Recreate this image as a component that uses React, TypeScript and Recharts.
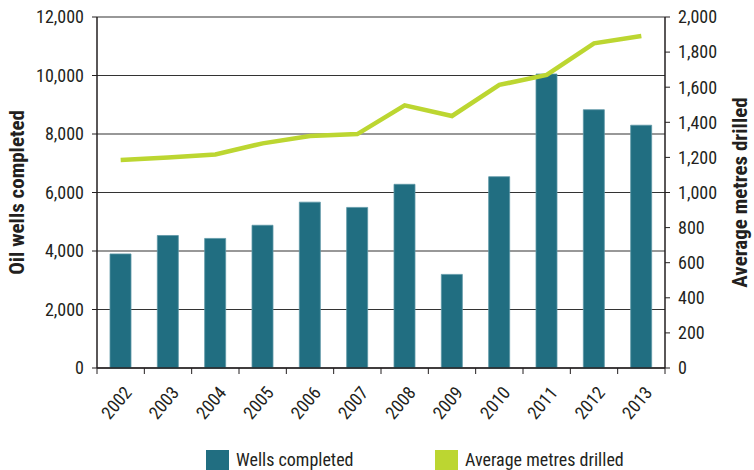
import React from "react";
import {
  Bar,
  CartesianGrid,
  ComposedChart,
  Legend,
  Line,
  XAxis,
  YAxis,
} from "recharts";

// oil wells completed vs average metres drilled, 2002-2013
const years = ["2002", "2003", "2004", "2005", "2006", "2007", "2008", "2009", "2010", "2011", "2012", "2013"];
const wellsCompleted = [3900, 4530, 4430, 4880, 5670, 5490, 6280, 3200, 6540, 10050, 8830, 8300];
const avgMetresDrilled = [1185, 1200, 1217, 1280, 1322, 1333, 1497, 1436, 1613, 1670, 1850, 1892];
const leftTicks = [0, 2000, 4000, 6000, 8000, 10000, 12000];
const rightTicks = [0, 200, 400, 600, 800, 1000, 1200, 1400, 1600, 1800, 2000];

const data = years.map((y, i) => ({
  year: y,
  wells: wellsCompleted[i],
  metres: avgMetresDrilled[i],
}));

const FONT = "'Liberation Sans Narrow', 'Roboto Condensed', 'Liberation Sans', Arial, sans-serif";
const TEAL = "#216e81";
const LIME = "#bcd631";
const INK = "#231f20";
const W = 754;
const H = 470;
const PLOT_L = 97;
const PLOT_R = 665;
const BAND = (PLOT_R - PLOT_L) / years.length;

const fmt = (v: number) => v.toLocaleString("en-US");

function YearTick(props: any) {
  const { x, y, payload, index } = props;
  const tx = x + 7;
  const ty = y + 13;
  return (
    <g>
      <line x1={x - BAND / 2} x2={x - BAND / 2} y1={y - 8} y2={y - 2} stroke={INK} strokeWidth={1} />
      {index === years.length - 1 && (
        <line x1={x + BAND / 2} x2={x + BAND / 2} y1={y - 8} y2={y - 2} stroke={INK} strokeWidth={1} />
      )}
      <text
        x={tx}
        y={ty}
        transform={`rotate(-50 ${tx} ${ty})`}
        textAnchor="end"
        dominantBaseline="central"
        fontFamily={FONT}
        fontSize={18}
        fill={INK}
      >
        {payload.value}
      </text>
    </g>
  );
}

function LegendBox() {
  const items = [
    { label: "Wells completed", color: TEAL, left: 206 },
    { label: "Average metres drilled", color: LIME, left: 435 },
  ];
  return (
    <div style={{ position: "relative", width: W, height: 22 }}>
      {items.map((it) => (
        <div
          key={it.label}
          style={{ position: "absolute", left: it.left, top: 0, display: "flex", alignItems: "center" }}
        >
          <span style={{ width: 23, height: 20, background: it.color, display: "inline-block" }} />
          <span
            style={{ marginLeft: 7, fontFamily: FONT, fontSize: 18, color: INK, lineHeight: "20px" }}
          >
            {it.label}
          </span>
        </div>
      ))}
    </div>
  );
}

export default function App() {
  return (
    <div style={{ position: "absolute", left: 0, top: 0, width: W, height: H, background: "#fff" }}>
      <ComposedChart
        width={W}
        height={H}
        data={data}
        margin={{ top: 17, right: 0, bottom: 20, left: 0 }}
        barCategoryGap={0}
      >
        <CartesianGrid vertical={false} stroke="#333" strokeWidth={1.2} yAxisId="left" />
        <XAxis
          dataKey="year"
          height={60}
          axisLine={{ stroke: INK, strokeWidth: 1.5 }}
          tickLine={false}
          tick={<YearTick />}
          interval={0}
        />
        <YAxis
          yAxisId="left"
          width={PLOT_L}
          domain={[0, 12000]}
          ticks={leftTicks}
          tickFormatter={fmt}
          axisLine={{ stroke: INK, strokeWidth: 1.5 }}
          tickLine={{ stroke: INK }}
          tickSize={5}
          tickMargin={8}
          tick={{ fontFamily: FONT, fontSize: 18, fill: INK }}
          label={({ viewBox }: any) => (
            <text
              x={viewBox.x + 17}
              y={viewBox.y + viewBox.height / 2}
              transform={`rotate(-90 ${viewBox.x + 17} ${viewBox.y + viewBox.height / 2})`}
              textAnchor="middle"
              dominantBaseline="central"
              fontFamily={FONT}
              fontWeight="bold"
              fontSize={21}
              fill={INK}
            >
              Oil wells completed
            </text>
          )}
        />
        <YAxis
          yAxisId="right"
          orientation="right"
          width={W - PLOT_R}
          domain={[0, 2000]}
          ticks={rightTicks}
          tickFormatter={fmt}
          axisLine={{ stroke: INK, strokeWidth: 1.5 }}
          tickLine={{ stroke: INK }}
          tickSize={5}
          tickMargin={8}
          tick={{ fontFamily: FONT, fontSize: 18, fill: INK }}
          label={({ viewBox }: any) => (
            <text
              x={viewBox.x + 75}
              y={viewBox.y + viewBox.height / 2}
              transform={`rotate(-90 ${viewBox.x + 75} ${viewBox.y + viewBox.height / 2})`}
              textAnchor="middle"
              dominantBaseline="central"
              fontFamily={FONT}
              fontWeight="bold"
              fontSize={21}
              fill={INK}
            >
              Average metres drilled
            </text>
          )}
        />
        <Bar
          yAxisId="left"
          dataKey="wells"
          name="Wells completed"
          fill={TEAL}
          stroke="#5d97a6"
          strokeWidth={0.8}
          barSize={21}
          isAnimationActive={false}
        />
        <Line
          yAxisId="right"
          dataKey="metres"
          name="Average metres drilled"
          type="linear"
          stroke={LIME}
          strokeWidth={4.5}
          dot={false}
          activeDot={false}
          isAnimationActive={false}
        />
        <Legend
          height={22}
          content={() => <LegendBox />}
          wrapperStyle={{ position: "absolute", top: 450, left: 0, width: W, height: 22, bottom: "auto" }}
        />
      </ComposedChart>
    </div>
  );
}
